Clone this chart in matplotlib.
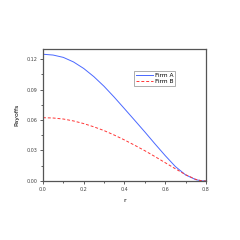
import matplotlib
matplotlib.use("Agg")
import matplotlib.pyplot as plt
from matplotlib.ticker import MultipleLocator

r = [0.0, 0.05, 0.1, 0.15, 0.2, 0.25, 0.3, 0.35, 0.4, 0.45, 0.5, 0.55, 0.6, 0.65, 0.7, 0.75, 0.78, 0.8]
firm_a = [0.1248, 0.1240, 0.1217, 0.1172, 0.1108, 0.1027, 0.0932, 0.0825, 0.0712, 0.0598,
          0.0483, 0.0365, 0.0250, 0.0142, 0.0060, 0.0013, 0.0001, 0.0]
firm_b = [0.0623, 0.0620, 0.0610, 0.0591, 0.0565, 0.0533, 0.0496, 0.0452, 0.0404, 0.0352,
          0.0298, 0.0240, 0.0180, 0.0120, 0.0062, 0.0016, 0.0001, 0.0]

fig = plt.figure(figsize=(2.4, 2.4), dpi=100)
ax = fig.add_axes([0.179, 0.246, 0.679, 0.55])

ax.plot(r, firm_a, color="#4a68ff", lw=0.7, label="Firm A")
ax.plot(r, firm_b, color="#ff3535", lw=0.7, ls=(0, (3, 2)), label="Firm B")

ax.set_xlim(0, 0.8)
ax.set_ylim(0, 0.13)
ax.xaxis.set_major_locator(MultipleLocator(0.2))
ax.xaxis.set_minor_locator(MultipleLocator(0.1))
ax.yaxis.set_major_locator(MultipleLocator(0.03))
ax.yaxis.set_minor_locator(MultipleLocator(0.015))
ax.xaxis.set_major_formatter(plt.FuncFormatter(lambda v, p: f"{v:.1f}"))
ax.yaxis.set_major_formatter(plt.FuncFormatter(lambda v, p: f"{v:.2f}"))
ax.tick_params(which="both", direction="out", labelsize=3.5, width=0.6, colors="#444444")
ax.tick_params(which="major", length=2.5, pad=1.5)
ax.tick_params(which="minor", length=1.5)
for s in ax.spines.values():
    s.set_linewidth(0.9)
    s.set_color("#555555")

ax.set_xlabel("r", fontsize=4.5, labelpad=5)
ax.set_ylabel("Payoffs", fontsize=4.5, labelpad=5)

leg = ax.legend(loc="upper left", bbox_to_anchor=(0.56, 0.83), fontsize=4.2, frameon=True,
                fancybox=False, handlelength=3, borderpad=0.3, labelspacing=0.2,
                handletextpad=0.3, borderaxespad=0)
leg.get_frame().set_edgecolor("#888888")
leg.get_frame().set_linewidth(0.6)

fig.savefig("out.png", dpi=100)
